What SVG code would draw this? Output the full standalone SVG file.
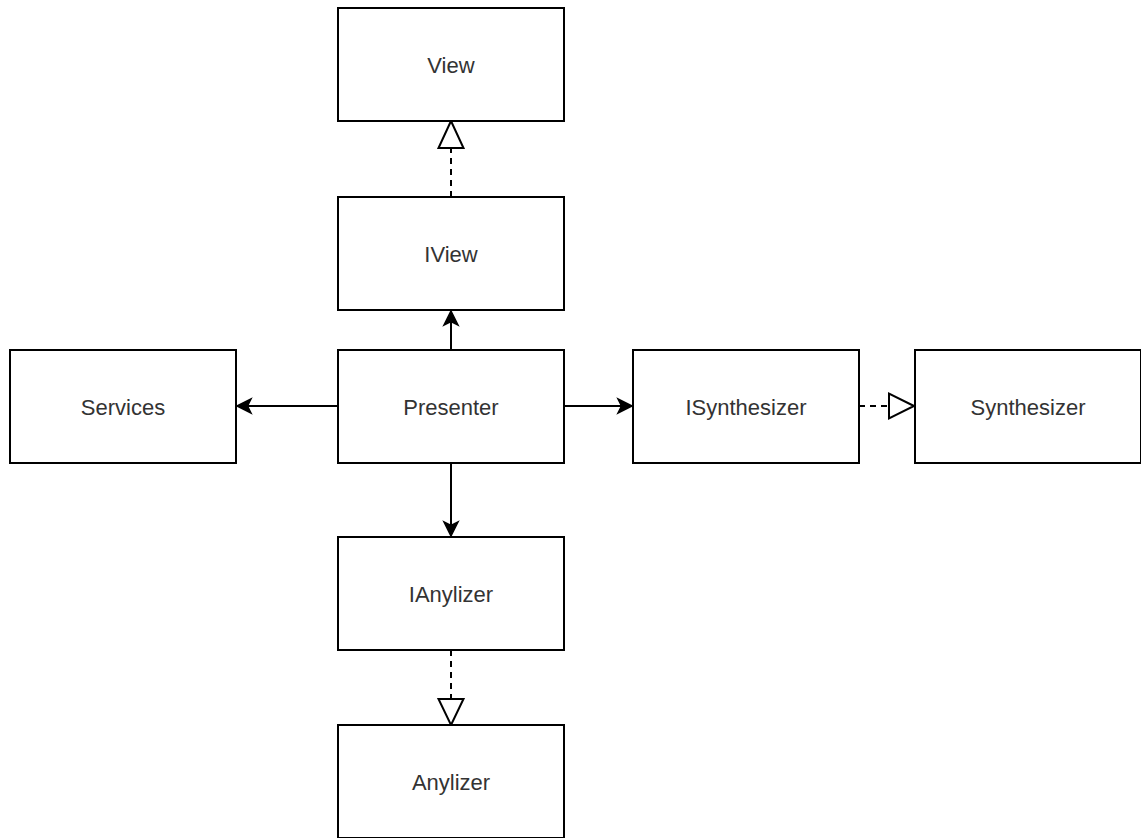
<svg xmlns="http://www.w3.org/2000/svg" width="1141" height="838" viewBox="0 0 1141 838">
<style>
.box{fill:#fff;stroke:#000;stroke-width:2}
.lbl{font-family:"Liberation Sans",Arial,sans-serif;font-size:22px;fill:#333;text-anchor:middle;dominant-baseline:central}
.ln{fill:none;stroke:#000;stroke-width:2}
.dash{fill:none;stroke:#000;stroke-width:2;stroke-dasharray:6 5}
.fill{fill:#000;stroke:#000;stroke-width:1.5;stroke-linejoin:miter}
.hollow{fill:#fff;stroke:#000;stroke-width:2;stroke-linejoin:miter}
</style>
<rect width="1141" height="838" fill="#fff"/>
<g id="connectors">
  <!-- Presenter -> IView -->
  <line class="ln" x1="451" y1="350" x2="451" y2="320"/>
  <path class="fill" d="M451 311 L458 325 L451 321.5 L444 325 Z"/>
  <!-- IView -> View (realization) -->
  <line class="dash" x1="451" y1="197" x2="451" y2="148"/>
  <path class="hollow" d="M451 121 L463.5 148 L438.5 148 Z"/>
  <!-- Presenter -> IAnylizer -->
  <line class="ln" x1="451" y1="463" x2="451" y2="528"/>
  <path class="fill" d="M451 536 L458 522 L451 525.5 L444 522 Z"/>
  <!-- IAnylizer -> Anylizer (realization) -->
  <line class="dash" x1="451" y1="650" x2="451" y2="699"/>
  <path class="hollow" d="M451 725 L463.5 699 L438.5 699 Z"/>
  <!-- Presenter -> Services -->
  <line class="ln" x1="338" y1="406" x2="246" y2="406"/>
  <path class="fill" d="M237 406 L251 399 L247.5 406 L251 413 Z"/>
  <!-- Presenter -> ISynthesizer -->
  <line class="ln" x1="564" y1="406" x2="623" y2="406"/>
  <path class="fill" d="M632 406 L618 399 L621.5 406 L618 413 Z"/>
  <!-- ISynthesizer -> Synthesizer (realization) -->
  <line class="dash" x1="859" y1="406" x2="889" y2="406"/>
  <path class="hollow" d="M914 406 L889 393.5 L889 418.5 Z"/>
</g>
<g id="node-view"><rect class="box" x="338" y="8" width="226" height="113"/><text class="lbl" x="451" y="65">View</text></g>
<g id="node-iview"><rect class="box" x="338" y="197" width="226" height="113"/><text class="lbl" x="451" y="254">IView</text></g>
<g id="node-presenter"><rect class="box" x="338" y="350" width="226" height="113"/><text class="lbl" x="451" y="407">Presenter</text></g>
<g id="node-services"><rect class="box" x="10" y="350" width="226" height="113"/><text class="lbl" x="123" y="407">Services</text></g>
<g id="node-isynthesizer"><rect class="box" x="633" y="350" width="226" height="113"/><text class="lbl" x="746" y="407">ISynthesizer</text></g>
<g id="node-synthesizer"><rect class="box" x="915" y="350" width="226" height="113"/><text class="lbl" x="1028" y="407">Synthesizer</text></g>
<g id="node-ianylizer"><rect class="box" x="338" y="537" width="226" height="113"/><text class="lbl" x="451" y="594">IAnylizer</text></g>
<g id="node-anylizer"><rect class="box" x="338" y="725" width="226" height="113"/><text class="lbl" x="451" y="782">Anylizer</text></g>
</svg>
